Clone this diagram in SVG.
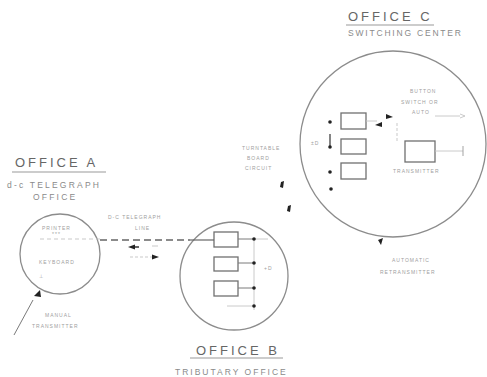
<svg xmlns="http://www.w3.org/2000/svg" width="487" height="377" viewBox="0 0 487 377">
<defs>
<style>
.circ{fill:none;stroke:#8c8c8c;stroke-width:1.3}
.box{fill:#fff;stroke:#707070;stroke-width:1.3}
.ln{fill:none;stroke:#7a7a7a;stroke-width:1}
.faint{fill:none;stroke:#c4c4c4;stroke-width:0.9}
.dash{fill:none;stroke:#666;stroke-width:1.5;stroke-dasharray:7 4}
.dot{fill:#222}
.title{font-family:"Liberation Sans",Arial,sans-serif;font-size:13px;fill:#666;letter-spacing:3px}
.sub{font-family:"Liberation Sans",Arial,sans-serif;font-size:8.5px;fill:#8a8a8a;letter-spacing:2.2px}
.lbl{font-family:"Liberation Sans",Arial,sans-serif;font-size:5px;fill:#a0a0a0;letter-spacing:1px}
.ul{stroke:#999;stroke-width:1}
</style>
</defs>

<g id="officeA">
<text class="title" x="15" y="167">OFFICE  A</text>
<line class="ul" x1="12" y1="172" x2="106" y2="172"/>
<text class="sub" x="7" y="188">d-c TELEGRAPH</text>
<text class="sub" x="33" y="200">OFFICE</text>
<circle class="circ" cx="60" cy="254" r="40"/>
<text class="lbl" x="42" y="230">PRINTER</text>
<text class="lbl" x="52" y="236">***</text>
<line x1="40" y1="239" x2="100" y2="239" stroke="#bbb" stroke-width="0.8" stroke-dasharray="4 3"/>
<text class="lbl" x="39" y="264">KEYBOARD</text>
<text class="lbl" x="39" y="278">⊥</text>
<path class="dot" d="M34 296 L40 290 L41 297 Z"/>
<line class="ln" x1="33" y1="300" x2="14" y2="335"/>
<text class="lbl" x="45" y="317">MANUAL</text>
<text class="lbl" x="32" y="328">TRANSMITTER</text>
</g>

<g id="officeB">
<circle class="circ" cx="234" cy="276" r="54"/>
<rect class="box" x="214" y="232" width="24" height="15"/>
<rect class="box" x="214" y="257" width="24" height="14"/>
<rect class="box" x="214" y="281" width="24" height="15"/>
<line class="ln" x1="238" y1="239" x2="254" y2="239"/>
<line class="ln" x1="238" y1="263" x2="254" y2="263"/>
<line class="ln" x1="238" y1="288" x2="254" y2="288"/>
<line class="faint" x1="254" y1="239" x2="254" y2="310"/>
<line class="faint" x1="254" y1="239" x2="268" y2="239"/>
<line class="faint" x1="227" y1="306" x2="254" y2="306"/>
<text class="lbl" x="264" y="270">+D</text>
<circle class="dot" cx="254" cy="239" r="1.8"/>
<circle class="dot" cx="254" cy="263" r="1.8"/>
<circle class="dot" cx="254" cy="288" r="1.8"/>
<circle class="dot" cx="254" cy="306" r="1.8"/>
<text class="title" x="196" y="355">OFFICE  B</text>
<line class="ul" x1="190" y1="358" x2="283" y2="358"/>
<text class="sub" x="175" y="375" style="letter-spacing:2px">TRIBUTARY OFFICE</text>
</g>

<g id="officeC">
<text class="title" x="348" y="21">OFFICE   C</text>
<line class="ul" x1="346" y1="25" x2="434" y2="25"/>
<text class="sub" x="348" y="36" style="letter-spacing:1.8px">SWITCHING CENTER</text>
<circle class="circ" cx="393" cy="144" r="93"/>
<rect class="box" x="341" y="113" width="25" height="16"/>
<rect class="box" x="341" y="139" width="25" height="15"/>
<rect class="box" x="341" y="163" width="25" height="16"/>
<circle class="dot" cx="330" cy="122" r="1.8"/>
<line x1="330" y1="134" x2="330" y2="147" stroke="#333" stroke-width="1.2"/>
<circle class="dot" cx="330" cy="147" r="1.8"/>
<circle class="dot" cx="330" cy="172" r="1.8"/>
<circle class="dot" cx="331" cy="189" r="1.8"/>
<text class="lbl" x="311" y="145">±D</text>
<line class="faint" x1="366" y1="121" x2="377" y2="121"/>
<path class="dot" d="M375 125 L382 122 L382 127 Z"/>
<path class="dot" d="M386 114 L393 117 L386 119 Z"/>
<line x1="397" y1="123" x2="397" y2="143" stroke="#bbb" stroke-width="0.8" stroke-dasharray="3 2"/>
<text class="lbl" x="410" y="93">BUTTON</text>
<text class="lbl" x="401" y="104">SWITCH OR</text>
<text class="lbl" x="412" y="114">AUTO</text>
<line class="faint" x1="435" y1="116" x2="460" y2="116"/>
<path d="M460 114 L465 116 L460 118" fill="none" stroke="#bbb" stroke-width="0.8"/>
<rect class="box" x="405" y="141" width="30" height="21"/>
<line class="faint" x1="435" y1="151" x2="463" y2="151"/>
<line x1="463" y1="146" x2="463" y2="156" stroke="#999" stroke-width="0.9"/>
<text class="lbl" x="393" y="173">TRANSMITTER</text>
<path class="dot" d="M378 240 L383 238 L381 245 Z"/>
<text class="lbl" x="392" y="262">AUTOMATIC</text>
<text class="lbl" x="380" y="274">RETRANSMITTER</text>
</g>

<g id="labelTable">
<text class="lbl" x="242" y="150">TURNTABLE</text>
<text class="lbl" x="247" y="160">BOARD</text>
<text class="lbl" x="245" y="170">CIRCUIT</text>
</g>

<g id="connectors">
<text class="lbl" x="108" y="219">D-C TELEGRAPH</text>
<text class="lbl" x="135" y="230">LINE</text>
<line class="dash" x1="100" y1="240" x2="190" y2="240"/>
<line x1="190" y1="240" x2="214" y2="240" stroke="#666" stroke-width="1.2"/>
<path class="dot" d="M128 247 L135 244.5 L135 249.5 Z"/>
<line x1="135" y1="247" x2="139" y2="247" stroke="#333" stroke-width="1.5"/>
<line x1="152" y1="246" x2="158" y2="246" stroke="#bbb" stroke-width="0.8"/>
<line x1="130" y1="257" x2="152" y2="257" stroke="#bbb" stroke-width="0.8" stroke-dasharray="3 2"/>
<path class="dot" d="M152 254.5 L159 257 L152 259.5 Z"/>
<path class="dot" d="M281 182 L284 181 L283 188 L280 187 Z"/>
<path class="dot" d="M288 206 L291 205 L290 212 L287 211 Z"/>
</g>
</svg>
